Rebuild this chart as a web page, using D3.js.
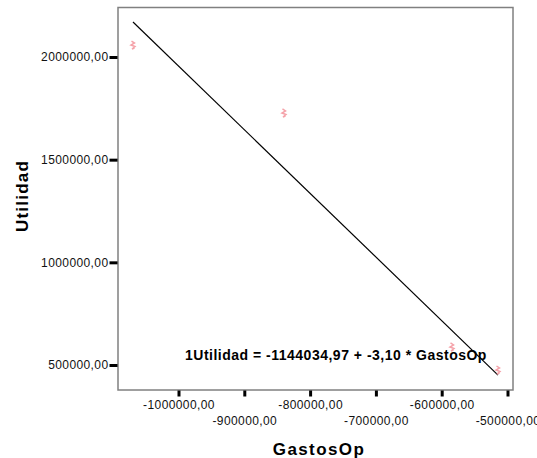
<!DOCTYPE html>
<html>
<head>
<meta charset="utf-8">
<script src="https://cdn.jsdelivr.net/npm/d3@7"></script>
<style>
  body { margin: 0; background: #fff; }
  text { font-family: "Liberation Sans", Arial, sans-serif; }
</style>
</head>
<body>
<div id="container"></div>
<script>
// data
const gastosOp = [-1069150, -839700, -584350, -514450];
const utilidad = [2058400, 1727300, 587700, 475650];
const xTicks = [-1000000, -900000, -800000, -700000, -600000, -500000];
const yTicks = [500000, 1000000, 1500000, 2000000];
const intercept = -1144034.97;
const slope = -3.10;
const equation = "1Utilidad = -1144034,97 + -3,10 * GastosOp";

const width = 537, height = 458;
const margin = { top: 7.5, right: 24, bottom: 68, left: 118 };

const svg = d3.select("#container")
  .append("svg")
  .attr("width", width)
  .attr("height", height);

// scales
const x = d3.scaleLinear()
  .domain([-1091940, -491640])
  .range([margin.left, width - margin.right]);
const y = d3.scaleLinear()
  .domain([378250, 2241060])
  .range([height - margin.bottom, margin.top]);

// spss style: comma decimal, plain hyphen
const fmt = v => v.toFixed(2).replace(".", ",");

// frame
svg.append("rect")
  .attr("x", margin.left)
  .attr("y", margin.top)
  .attr("width", x.range()[1] - x.range()[0])
  .attr("height", y.range()[0] - y.range()[1])
  .attr("fill", "none")
  .attr("stroke", "#808080")
  .attr("stroke-width", 1.5);

// y axis
const yAxis = d3.axisLeft(y)
  .tickValues(yTicks)
  .tickSize(8)
  .tickPadding(1)
  .tickFormat(fmt);
const gy = svg.append("g")
  .attr("transform", `translate(${margin.left - 0.5},0)`)
  .call(yAxis);
gy.select(".domain").remove();
gy.selectAll(".tick line").attr("stroke", "#000").attr("stroke-width", 3);
gy.selectAll(".tick text")
  .attr("font-size", 12)
  .attr("fill", "#111")
  .attr("letter-spacing", 0.4);

// x axis
const xAxis = d3.axisBottom(x)
  .tickValues(xTicks)
  .tickSize(6)
  .tickPadding(4)
  .tickFormat(fmt);
const gx = svg.append("g")
  .attr("transform", `translate(0,${y.range()[0] + 0.5})`)
  .call(xAxis);
gx.select(".domain").remove();
gx.selectAll(".tick line").attr("stroke", "#000").attr("stroke-width", 3);
gx.selectAll(".tick text")
  .attr("font-size", 12)
  .attr("fill", "#111")
  .attr("letter-spacing", 0.4)
  .attr("dy", (d, i) => i % 2 ? "2.05em" : "0.71em");

// axis titles
svg.append("text")
  .attr("x", 319)
  .attr("y", 455)
  .attr("text-anchor", "middle")
  .attr("font-size", 17)
  .attr("font-weight", "bold")
  .attr("letter-spacing", 1.4)
  .text("GastosOp");

svg.append("text")
  .attr("transform", "translate(28,196) rotate(-90)")
  .attr("text-anchor", "middle")
  .attr("font-size", 17)
  .attr("font-weight", "bold")
  .attr("letter-spacing", 1.2)
  .text("Utilidad");

// regression line
const xr = d3.extent(gastosOp);
svg.append("line")
  .attr("x1", x(xr[0]))
  .attr("y1", y(intercept + slope * xr[0]))
  .attr("x2", x(xr[1]))
  .attr("y2", y(intercept + slope * xr[1]))
  .attr("stroke", "#000")
  .attr("stroke-width", 1.2);

// points
svg.selectAll(".pt")
  .data(gastosOp)
  .enter()
  .append("path")
  .attr("class", "pt")
  .attr("transform", (d, i) => `translate(${x(d)},${y(utilidad[i])})`)
  .attr("d", "M-1.5,-4 L1.5,-2 L-2,0 L2,1.5 L-1,4 L1.5,3")
  .attr("fill", "none")
  .attr("stroke", "#f5a3aa")
  .attr("stroke-width", 1.5);

// equation label
svg.append("text")
  .attr("x", 185)
  .attr("y", 360)
  .attr("font-size", 14)
  .attr("font-weight", "bold")
  .attr("letter-spacing", 0.5)
  .text(equation);
</script>
</body>
</html>
